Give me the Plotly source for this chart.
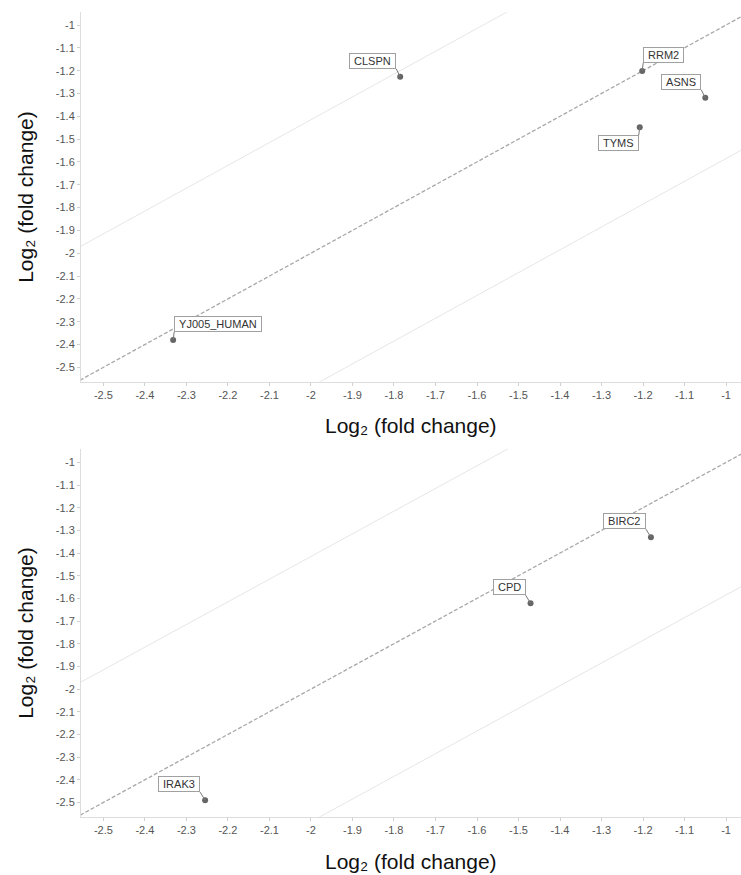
import math
import plotly.graph_objects as go

# ---- data -------------------------------------------------------------
top_genes = ["CLSPN", "RRM2", "ASNS", "TYMS", "YJ005_HUMAN"]
top_x = [-1.785, -1.202, -1.050, -1.208, -2.332]
top_y = [-1.227, -1.201, -1.319, -1.448, -2.380]

bottom_genes = ["BIRC2", "CPD", "IRAK3"]
bottom_x = [-1.181, -1.471, -2.255]
bottom_y = [-1.330, -1.621, -2.490]

tick_values = [-2.5, -2.4, -2.3, -2.2, -2.1, -2.0, -1.9, -1.8, -1.7, -1.6,
               -1.5, -1.4, -1.3, -1.2, -1.1, -1.0]
tick_labels = ["-2.5", "-2.4", "-2.3", "-2.2", "-2.1", "-2", "-1.9", "-1.8",
               "-1.7", "-1.6", "-1.5", "-1.4", "-1.3", "-1.2", "-1.1", "-1"]

# identity line and +/- 1.5-fold guide lines
line_x = [-3.0, 0.0]
fold_offset = math.log2(1.5)

# ---- label placement (pixel offsets of the box corner from the point) --
top_label_style = {
    "CLSPN": dict(ax=-4, ay=-8, xanchor="right", yanchor="bottom"),
    "RRM2": dict(ax=1, ay=-8, xanchor="left", yanchor="bottom"),
    "ASNS": dict(ax=-4, ay=-8, xanchor="right", yanchor="bottom"),
    "TYMS": dict(ax=-1, ay=8, xanchor="right", yanchor="top"),
    "YJ005_HUMAN": dict(ax=1, ay=-8, xanchor="left", yanchor="bottom"),
}
bottom_label_style = {
    "BIRC2": dict(ax=-5, ay=-8, xanchor="right", yanchor="bottom"),
    "CPD": dict(ax=-5, ay=-8, xanchor="right", yanchor="bottom"),
    "IRAK3": dict(ax=-5, ay=-8, xanchor="right", yanchor="bottom"),
}

FONT = "Liberation Sans, Arial, DejaVu Sans, sans-serif"
W, H = 741, 875
PAD = "\u00a0"

fig = go.Figure()


def add_panel(xs, ys, genes, styles, xa, ya):
    xref = "x" if xa == 1 else f"x{xa}"
    yref = "y" if ya == 1 else f"y{ya}"
    for off in (fold_offset, -fold_offset):
        fig.add_trace(go.Scatter(
            x=line_x, y=[v + off for v in line_x], mode="lines",
            line=dict(color="#e6e6e6", width=1), hoverinfo="skip",
            showlegend=False, xaxis=xref, yaxis=yref))
    fig.add_trace(go.Scatter(
        x=line_x, y=line_x, mode="lines",
        line=dict(color="#a8a8a8", width=1.3, dash="4px,2px"),
        hoverinfo="skip", showlegend=False, xaxis=xref, yaxis=yref))
    fig.add_trace(go.Scatter(
        x=xs, y=ys, mode="markers",
        marker=dict(color="#666666", size=6), showlegend=False,
        xaxis=xref, yaxis=yref))
    for gx, gy, g in zip(xs, ys, genes):
        st = styles[g]
        fig.add_annotation(
            x=gx, y=gy, xref=xref, yref=yref,
            text=PAD + g + PAD, showarrow=True,
            arrowhead=0, arrowwidth=1, arrowcolor="#777777",
            ax=st["ax"], ay=st["ay"],
            xanchor=st["xanchor"], yanchor=st["yanchor"],
            font=dict(family=FONT, size=11, color="#333333"),
            bgcolor="white", bordercolor="#a0a0a0", borderwidth=1,
            borderpad=1)


add_panel(top_x, top_y, top_genes, top_label_style, 1, 1)
add_panel(bottom_x, bottom_y, bottom_genes, bottom_label_style, 2, 2)

axis_common = dict(
    showgrid=False, zeroline=False, showline=True, linecolor="#dddddd",
    linewidth=1, ticks="outside", ticklen=3, tickcolor="#d0d0d0",
    tickvals=tick_values, ticktext=tick_labels,
    tickfont=dict(family=FONT, size=11, color="#555555"),
)

x_dom = [81 / W, 1.0]
top_dom = [1 - 381.7 / H, 1 - 12 / H]
bot_dom = [1 - 816.7 / H, 1 - 449 / H]

fig.update_layout(
    width=W, height=H, margin=dict(l=0, r=0, t=0, b=0),
    paper_bgcolor="white", plot_bgcolor="white",
    xaxis=dict(domain=x_dom, range=[-2.554, -0.964], anchor="y", **axis_common),
    yaxis=dict(domain=top_dom, range=[-2.563, -0.943], anchor="x", **axis_common),
    xaxis2=dict(domain=x_dom, range=[-2.554, -0.964], anchor="y2", **axis_common),
    yaxis2=dict(domain=bot_dom, range=[-2.563, -0.941], anchor="x2", **axis_common),
)

title_text = "Log\u2082 (fold change)"
title_font = dict(family=FONT, size=21, color="#111111")
x_center = (x_dom[0] + x_dom[1]) / 2
for yc in (1 - 425 / H, 1 - 861.7 / H):
    fig.add_annotation(x=x_center, y=yc, xref="paper", yref="paper",
                       text=title_text, showarrow=False, font=title_font,
                       xanchor="center", yanchor="middle")
for dom in (top_dom, bot_dom):
    fig.add_annotation(x=26 / W, y=(dom[0] + dom[1]) / 2, xref="paper",
                       yref="paper", text=title_text, showarrow=False,
                       font=title_font, textangle=-90,
                       xanchor="center", yanchor="middle")

fig.write_html("out.html")
